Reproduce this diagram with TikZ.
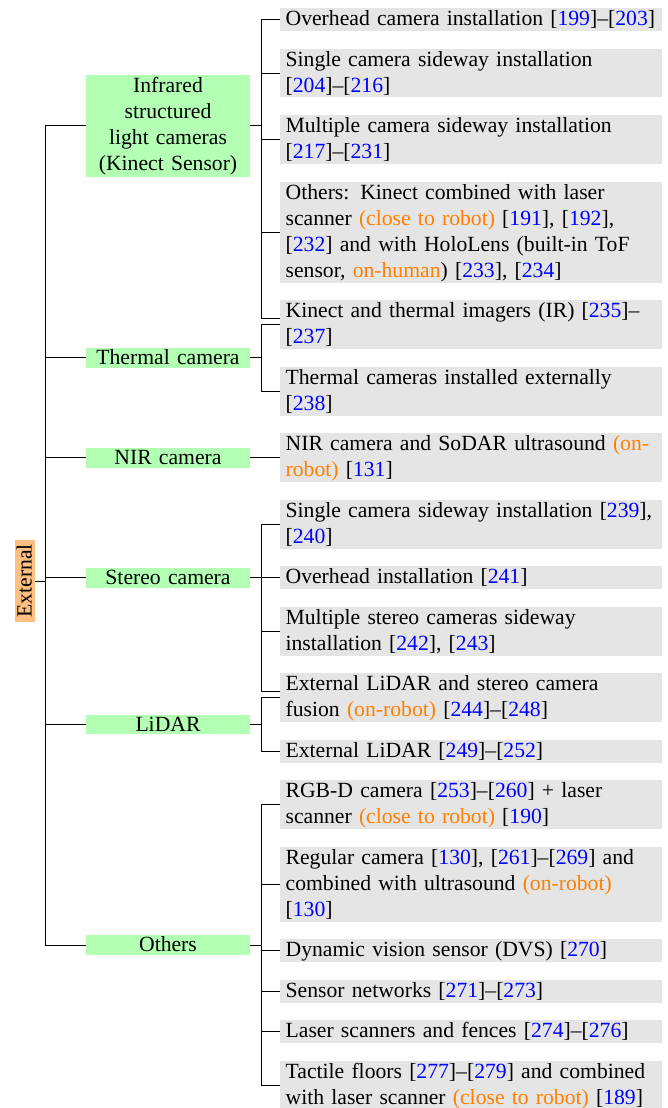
\documentclass[tikz,border=0pt]{standalone}
\usepackage{fontspec}
\setmainfont{Liberation Serif}
\usepackage{xcolor}
\definecolor{CatGreen}{HTML}{B3FFB3}
\definecolor{RootOrange}{HTML}{FFBF80}
\definecolor{LeafGrey}{HTML}{E5E5E5}
\definecolor{PlaceOrange}{HTML}{FF8000}
\definecolor{RefBlue}{HTML}{0000FF}
\usepackage{tikz}
\usetikzlibrary{positioning, calc}
\newcommand{\refno}[1]{[\textcolor{RefBlue}{#1}]}
\newcommand{\where}[1]{\textcolor{PlaceOrange}{#1}}
\newcommand{\leafup}{\rule{0pt}{8.1pt}}
\newcommand{\leafdown}{\rule[-2.5pt]{0pt}{2.5pt}}
\newcommand{\catup}{\rule{0pt}{7.7pt}}
\newcommand{\catdown}{\rule[-1.5pt]{0pt}{1.5pt}}
\tikzstyle{leaf} = [rectangle, fill=LeafGrey, text width=171pt, inner xsep=2.6pt, inner ysep=0pt, outer sep=0pt, align=left, font=\fontsize{10pt}{12pt}\selectfont, execute at begin node=\leafup, execute at end node=\leafdown]
\tikzstyle{cat} = [rectangle, fill=CatGreen, text width=75.7pt, inner sep=0pt, outer sep=0pt, align=center, font=\fontsize{10pt}{12pt}\selectfont, execute at begin node=\catup, execute at end node=\catdown]
\tikzstyle{root} = [rectangle, fill=RootOrange, rotate=90, inner xsep=1.8pt, inner ysep=0pt, outer sep=0pt, font=\fontsize{10pt}{12pt}\selectfont, execute at begin node=\catup, execute at end node=\catdown]
\tikzstyle{line} = [line width=0.45pt, color=black]

\begin{document}
\begin{tikzpicture}[x=0.4615pt, y=-0.4615pt, node distance=8.1pt]
        \useasboundingbox (0,0) rectangle (667,1108);

        % --- leaves ---
        \node [leaf, anchor=north west] (l1) at (280,8) {Overhead camera installation \refno{199}–\refno{203}};
        \node [leaf, below=of l1] (l2) {Single camera sideway installation\newline \refno{204}–\refno{216}};
        \node [leaf, below=of l2] (l3) {Multiple camera sideway installation\newline \refno{217}–\refno{231}};
        \node [leaf, below=of l3] (l4) {Others: Kinect combined with laser\newline scanner \where{(close to robot)} \refno{191}, \refno{192},\newline \refno{232} and with HoloLens (built-in ToF\newline sensor, \where{on-human}) \refno{233}, \refno{234}};
        \node [leaf, below=of l4] (l5) {Kinect and thermal imagers (IR) \refno{235}–\newline \refno{237}};
        \node [leaf, below=of l5] (l6) {Thermal cameras installed externally\newline \refno{238}};
        \node [leaf, below=of l6] (l7) {NIR camera and SoDAR ultrasound \where{(on-}\newline \where{robot)} \refno{131}};
        \node [leaf, below=of l7] (l8) {Single camera sideway installation \refno{239},\newline \refno{240}};
        \node [leaf, below=of l8] (l9) {Overhead installation \refno{241}};
        \node [leaf, below=of l9] (l10) {Multiple stereo cameras sideway\newline installation \refno{242}, \refno{243}};
        \node [leaf, below=of l10] (l11) {External LiDAR and stereo camera\newline fusion \where{(on-robot)} \refno{244}–\refno{248}};
        \node [leaf, below=of l11] (l12) {External LiDAR \refno{249}–\refno{252}};
        \node [leaf, below=of l12] (l13) {RGB-D camera \refno{253}–\refno{260} + laser\newline scanner \where{(close to robot)} \refno{190}};
        \node [leaf, below=of l13] (l14) {Regular camera \refno{130}, \refno{261}–\refno{269} and\newline combined with ultrasound \where{(on-robot)}\newline \refno{130}};
        \node [leaf, below=of l14] (l15) {Dynamic vision sensor (DVS) \refno{270}};
        \node [leaf, below=of l15] (l16) {Sensor networks \refno{271}–\refno{273}};
        \node [leaf, below=of l16] (l17) {Laser scanners and fences \refno{274}–\refno{276}};
        \node [leaf, below=of l17] (l18) {Tactile floors \refno{277}–\refno{279} and combined\newline with laser scanner \where{(close to robot)} \refno{189}};

        % --- sensor categories ---
        \coordinate (catx) at (168,0);
        \node [cat, minimum height=47pt] (infra) at ($(catx |- l1.west)!.5!(catx |- l4.west)$) {Infrared\\structured\\light cameras\\(Kinect Sensor)};
        \node [cat] (thermal) at ($(catx |- l5.west)!.5!(catx |- l6.west)$) {Thermal camera};
        \node [cat] (nir) at (catx |- l7.west) {NIR camera};
        \node [cat] (stereo) at ($(catx |- l8.west)!.5!(catx |- l10.west)$) {Stereo camera};
        \node [cat] (lidar) at ($(catx |- l11.west)!.5!(catx |- l12.west)$) {LiDAR};
        \node [cat] (others) at ($(catx |- l13.west)!.5!(catx |- l18.west)$) {Others};

        % --- root ---
        \node [root] (external) at (25,581) {External};

        % Connect root to categories
        \draw [line] (external.south) -- ++(11,0) coordinate (trunk);
        \foreach \c in {infra, thermal, nir, stereo, lidar, others}
            \draw [line] (trunk) |- (\c.west);

        % Connect categories to leaves
        \draw [line] (infra.east) -- ++(11,0) coordinate (f1);
        \foreach \l in {l1, l2, l3, l4}
            \draw [line] (f1) |- (\l.west);
        \draw [line] (f1) |- ($(l5.west)+(0,-6.5)$);

        \draw [line] (thermal.east) -- ++(11,0) coordinate (f2);
        \foreach \l in {l5, l6}
            \draw [line] (f2) |- (\l.west);

        \draw [line] (nir.east) -- (l7.west);

        \draw [line] (stereo.east) -- ++(11,0) coordinate (f3);
        \foreach \l in {l8, l9, l10}
            \draw [line] (f3) |- (\l.west);
        \draw [line] (f3) |- ($(l11.west)+(0,-6.5)$);

        \draw [line] (lidar.east) -- ++(11,0) coordinate (f4);
        \foreach \l in {l11, l12}
            \draw [line] (f4) |- (\l.west);

        \draw [line] (others.east) -- ++(11,0) coordinate (f5);
        \foreach \l in {l13, l14, l15, l16, l17, l18}
            \draw [line] (f5) |- (\l.west);
    \end{tikzpicture}
\end{document}
